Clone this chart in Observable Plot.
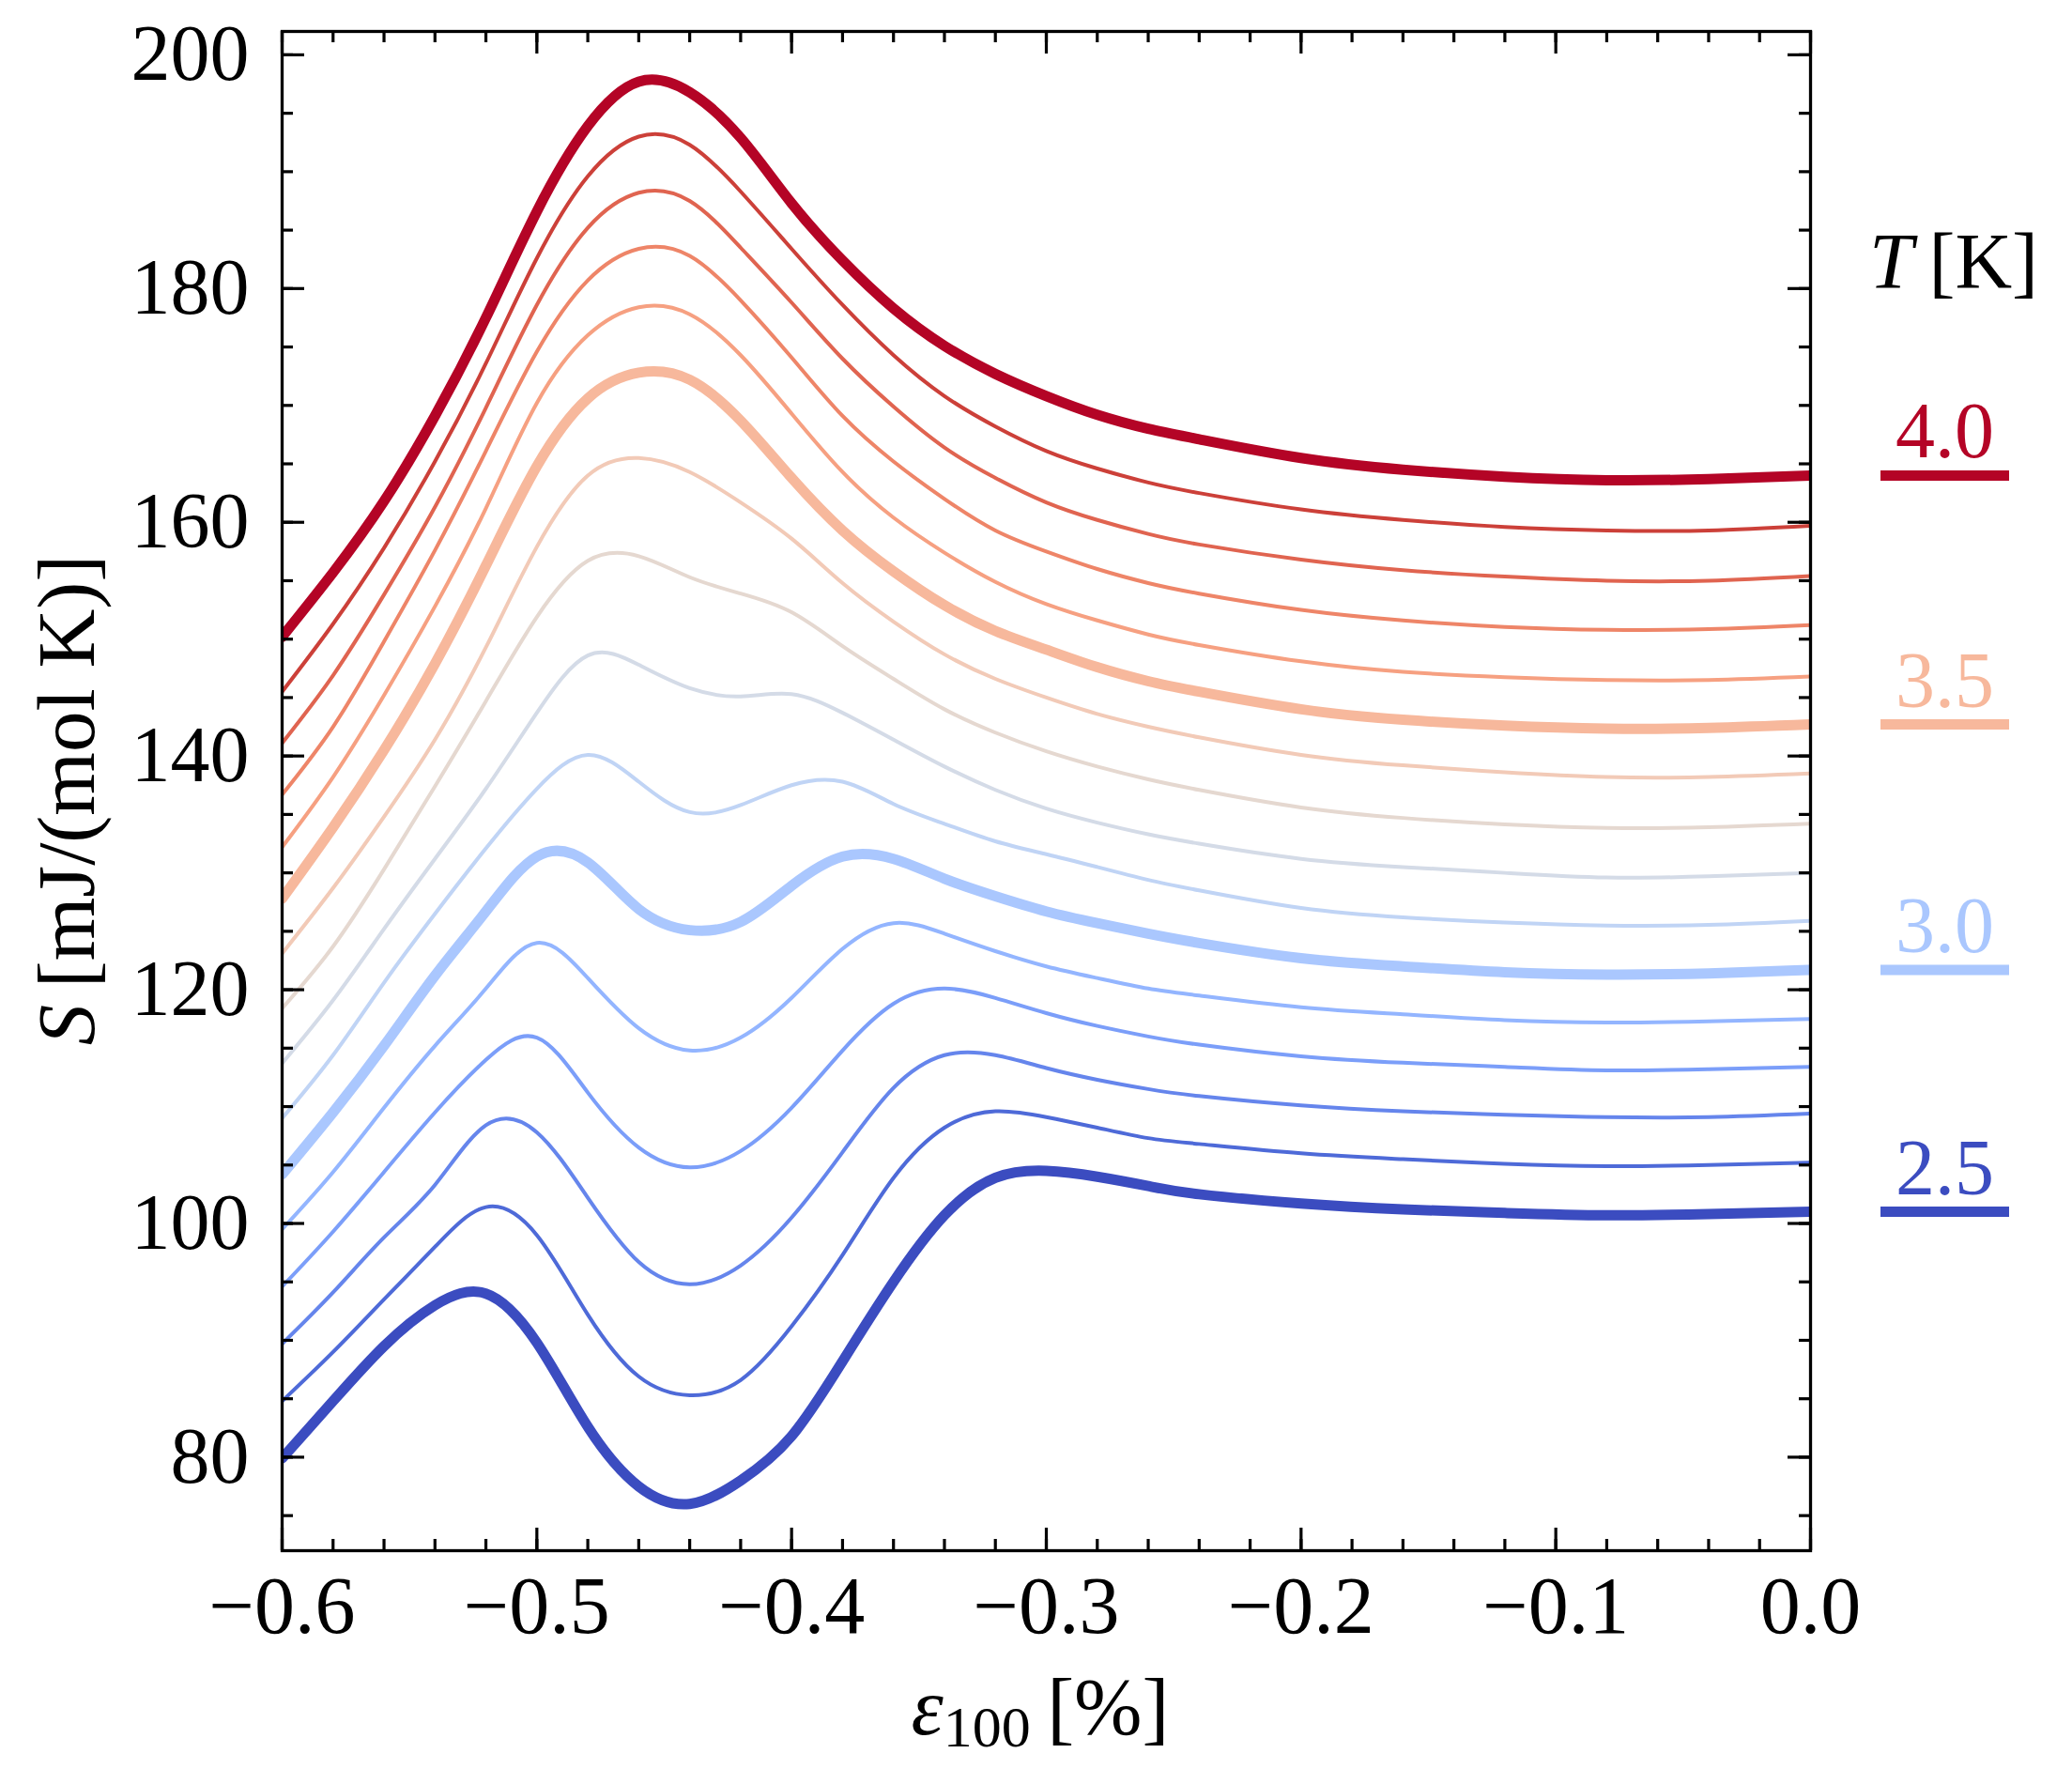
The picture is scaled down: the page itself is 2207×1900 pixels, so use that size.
<!DOCTYPE html>
<html>
<head>
<meta charset="utf-8">
<script src="https://cdn.jsdelivr.net/npm/d3@7"></script>
<script src="https://cdn.jsdelivr.net/npm/@observablehq/plot@0.6"></script>
<style>
  html, body { margin: 0; padding: 0; background: #fff; }
  #chart svg { display: block; }
</style>
</head>
<body>
<div id="chart"></div>
<script>
// ---- data ----
const strain = [-0.60,-0.58,-0.56,-0.54,-0.52,-0.50,-0.48,-0.46,-0.44,-0.42,-0.40,-0.38,-0.36,-0.34,-0.32,-0.30,-0.28,-0.26,-0.24,-0.20,-0.16,-0.12,-0.08,-0.04,0.00];
const temps = [2.5,2.6,2.7,2.8,2.9,3.0,3.1,3.2,3.3,3.4,3.5,3.6,3.7,3.8,3.9,4.0];

const S25 = [79.9,84.8,89.5,93.0,94.0,89.8,82.6,77.5,76.0,78.0,81.8,88.2,95.0,100.7,103.9,104.5,104.0,103.2,102.5,101.7,101.2,100.9,100.7,100.8,101.0];
const S26 = [84.8,89.0,93.5,98.0,101.4,99.0,92.2,86.9,85.3,86.6,91.2,97.3,103.9,108.2,109.6,109.1,108.2,107.3,106.8,106.0,105.5,105.1,104.9,105.0,105.2];
const S27 = [89.7,94.1,98.8,103.3,108.4,107.8,102.2,96.7,94.8,96.4,100.5,106.1,111.6,114.4,114.4,113.3,112.3,111.5,110.9,110.1,109.6,109.3,109.1,109.1,109.4];
const S28 = [94.6,99.3,104.4,109.5,114.0,115.9,111.2,106.5,104.8,106.2,109.9,114.8,118.8,120.1,119.3,118.0,116.9,116.0,115.3,114.3,113.75,113.4,113.1,113.2,113.4];
const S29 = [99.5,104.4,109.9,115.2,120.1,124.0,121.0,116.7,114.8,115.9,119.3,123.5,125.7,124.8,123.3,122.0,121.0,120.1,119.5,118.5,117.9,117.4,117.2,117.3,117.5];
const S30 = [104.2,109.5,115.2,121.2,126.7,131.4,130.9,126.9,125.1,125.8,128.9,131.4,131.2,129.5,128.0,126.7,125.7,124.8,124.0,122.7,122.0,121.5,121.3,121.4,121.7];
const S31 = [109.0,114.4,120.6,126.5,132.1,137.2,140.1,137.8,135.2,135.8,137.5,137.8,135.9,134.2,132.7,131.6,130.5,129.4,128.5,127.0,126.2,125.75,125.5,125.55,125.9];
const S32 = [113.7,119.1,125.2,131.2,137.2,143.7,148.6,147.8,145.8,145.1,145.3,143.7,141.4,139.1,137.1,135.5,134.3,133.3,132.5,131.2,130.5,130.0,129.6,129.7,130.0];
const S33 = [118.4,123.7,130.3,137.4,144.7,151.9,156.7,157.1,155.3,153.9,152.3,149.4,146.6,144.0,142.0,140.4,139.1,138.0,137.1,135.6,134.7,134.15,133.85,133.9,134.2];
const S34 = [123.1,128.7,134.8,141.4,149.3,157.9,164.0,165.5,164.3,161.7,158.6,154.8,151.5,148.7,146.6,145.0,143.6,142.5,141.6,140.1,139.2,138.6,138.2,138.2,138.5];
const S35 = [127.8,133.9,140.5,147.9,156.3,164.8,170.6,172.8,172.2,168.7,163.8,159.3,155.8,152.9,150.7,149.1,147.6,146.4,145.5,144.0,143.1,142.6,142.35,142.4,142.7];
const S36 = [132.2,138.2,145.2,152.8,161.2,170.2,176.0,178.4,177.8,174.3,169.3,164.3,160.4,157.4,154.9,153.0,151.6,150.4,149.5,148.1,147.2,146.75,146.5,146.5,146.8];
const S37 = [136.7,142.5,149.8,157.6,166.1,174.6,180.7,183.4,182.8,179.0,174.1,169.1,165.2,162.0,159.3,157.5,156.0,154.8,153.9,152.5,151.6,151.05,150.8,150.85,151.2];
const S38 = [141.1,146.9,153.8,161.3,169.8,178.6,185.2,188.2,187.5,183.5,178.8,174.0,169.9,166.4,163.8,161.7,160.2,159.0,158.1,156.8,155.9,155.35,155.0,155.0,155.4];
const S39 = [145.5,151.3,157.8,165.2,173.6,182.6,189.6,193.0,192.3,188.3,183.4,178.6,174.3,170.8,168.2,166.1,164.6,163.4,162.5,161.1,160.2,159.6,159.3,159.3,159.7];
const S40 = [150.2,155.7,161.8,169.1,177.5,186.6,193.9,197.7,196.8,192.9,187.3,182.4,178.3,175.1,172.7,170.8,169.2,168.0,167.1,165.5,164.5,163.9,163.6,163.7,164.0];

const series = [S25,S26,S27,S28,S29,S30,S31,S32,S33,S34,S35,S36,S37,S38,S39,S40];
const thickTemps = [2.5, 3.0, 3.5, 4.0];
const legendTemps = [4.0, 3.5, 3.0, 2.5];

const xTicks = [-0.6,-0.5,-0.4,-0.3,-0.2,-0.1,0.0];
const yTicks = [80,100,120,140,160,180,200];

// coolwarm colormap (Moreland) control points
const coolwarmRGB = [
  [59,76,192],[68,90,204],[77,104,215],[87,117,225],[98,130,234],[108,142,241],[119,154,247],[130,165,251],
  [141,176,254],[152,185,255],[163,194,255],[174,201,253],[184,208,249],[194,213,244],[204,217,238],[213,219,230],
  [221,221,221],[229,216,209],[236,211,197],[241,204,185],[245,196,173],[247,187,160],[247,177,148],[247,166,135],
  [244,154,123],[241,141,111],[236,127,99],[229,112,88],[222,96,77],[213,80,66],[203,62,56],[192,40,47],[180,4,38]
];
const coolwarm = d3.scaleLinear()
  .domain(coolwarmRGB.map((_, i) => i / (coolwarmRGB.length - 1)))
  .range(coolwarmRGB.map(c => `rgb(${c[0]},${c[1]},${c[2]})`))
  .interpolate(d3.interpolateRgb)
  .clamp(true);
const colorOf = T => coolwarm((T - 2.5) / 1.5);
const isThick = T => thickTemps.some(t => Math.abs(t - T) < 1e-9);

// ---- rows ----
const rows = [];
series.forEach((vals, i) => vals.forEach((v, j) => rows.push({T: temps[i], x: strain[j], S: v})));
const legendRows = legendTemps.map(T => {
  const vals = series[temps.findIndex(t => Math.abs(t - T) < 1e-9)];
  return {T, S: vals[vals.length - 1]};
});

// ---- layout ----
const W = 2207, H = 1900;
const mL = 300, mR = 279, mT = 33, mB = 249;
const innerW = W - mL - mR, innerH = H - mT - mB;
const FS = 84;
const majorLen = 24, minorLen = 12, tickW = 3.2;

const xMinor = d3.range(-30, 1).map(k => k * 0.02);
const yMinor = d3.range(15, 41).map(k => k * 5);

const fmtX = d => (d < -1e-9 ? "\u2212" : "") + Math.abs(d).toFixed(1);

const lineMarks = temps.map(T => Plot.line(rows.filter(r => r.T === T), {
  x: "x", y: "S", stroke: colorOf(T), strokeWidth: isThick(T) ? 11 : 4,
  curve: "natural", clip: true, strokeLinejoin: "round"
}));

const svg = Plot.plot({
  width: W, height: H,
  marginLeft: mL, marginRight: mR, marginTop: mT, marginBottom: mB,
  style: {fontFamily: "'Liberation Serif', 'DejaVu Serif', serif", fontSize: FS + "px", background: "white", overflow: "visible"},
  x: {domain: [-0.6, 0]},
  y: {domain: [72, 202]},
  color: {type: "identity"},
  marks: [
    ...lineMarks,
    // inward ticks on all four sides
    Plot.tickX(xMinor, {x: d => d, insetTop: innerH - minorLen, stroke: "black", strokeWidth: tickW}),
    Plot.tickX(xMinor, {x: d => d, insetBottom: innerH - minorLen, stroke: "black", strokeWidth: tickW}),
    Plot.tickX(xTicks, {x: d => d, insetTop: innerH - majorLen, stroke: "black", strokeWidth: tickW}),
    Plot.tickX(xTicks, {x: d => d, insetBottom: innerH - majorLen, stroke: "black", strokeWidth: tickW}),
    Plot.tickY(yMinor, {y: d => d, insetRight: innerW - minorLen, stroke: "black", strokeWidth: tickW}),
    Plot.tickY(yMinor, {y: d => d, insetLeft: innerW - minorLen, stroke: "black", strokeWidth: tickW}),
    Plot.tickY(yTicks, {y: d => d, insetRight: innerW - majorLen, stroke: "black", strokeWidth: tickW}),
    Plot.tickY(yTicks, {y: d => d, insetLeft: innerW - majorLen, stroke: "black", strokeWidth: tickW}),
    Plot.frame({stroke: "black", strokeWidth: 3.3}),
    Plot.axisX({ticks: xTicks, tickSize: 0, tickPadding: 26, tickFormat: fmtX, fontSize: FS + 2, label: null, anchor: "bottom"}),
    Plot.axisY({ticks: yTicks, tickSize: 0, tickPadding: 35, tickFormat: d => String(d), fontSize: FS, label: null, anchor: "left"}),
    // legend: coloured underline at each curve's end value, with its temperature above
    Plot.tickY(legendRows, {y: "S", stroke: d => colorOf(d.T), strokeWidth: 11, insetLeft: innerW + 75, insetRight: -212}),
    Plot.text(legendRows, {y: "S", frameAnchor: "right", dx: 143, dy: -19, lineAnchor: "bottom", textAnchor: "middle",
      text: d => d.T.toFixed(1), fill: d => colorOf(d.T), fontSize: FS})
  ]
});

// axis labels and legend title with italic symbols
const s = d3.select(svg);
const font = "'Liberation Serif', 'DejaVu Serif', serif";

const yl = s.append("text")
  .attr("transform", `translate(100, ${mT + innerH / 2 + 10}) rotate(-90)`)
  .attr("text-anchor", "middle").attr("font-family", font).attr("font-size", FS + 3).attr("fill", "black");
yl.append("tspan").attr("font-style", "italic").text("S");
yl.append("tspan").text("\u2009[mJ/(mol\u00a0K)]");

const xl = s.append("text")
  .attr("x", mL + innerW / 2 - 6).attr("y", 1847)
  .attr("text-anchor", "middle").attr("font-family", font).attr("font-size", FS + 3).attr("fill", "black");
xl.append("tspan").attr("font-style", "italic").text("\u03b5");
xl.append("tspan").attr("font-size", 62).attr("dy", 13).text("100");
xl.append("tspan").attr("dy", -13).text("\u2009[%]");

const tl = s.append("text")
  .attr("x", 2081).attr("y", 307)
  .attr("text-anchor", "middle").attr("font-family", font).attr("font-size", FS).attr("fill", "black");
tl.append("tspan").attr("font-style", "italic").text("T");
tl.append("tspan").text("\u2009[K]");

document.getElementById("chart").appendChild(svg);
</script>
</body>
</html>
